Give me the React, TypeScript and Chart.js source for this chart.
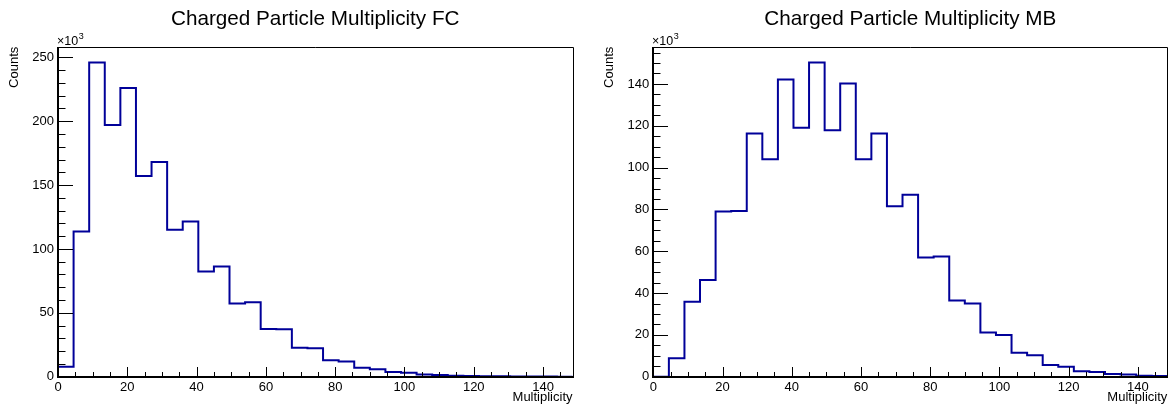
import React, { useEffect, useRef } from "react";
import { Chart, registerables } from "chart.js";

Chart.register(...registerables);

// ---------- data (counts in units of 10^3) ----------
const binWidth = 4.5;
const xMax = 148.5;
const fcCounts = [
  7.8, 113.6, 246, 197, 226, 157, 168, 115, 121.5, 82.3, 86.2, 57.2, 58.3, 37.4, 37.2, 22.7,
  22.2, 12.8, 11.8, 7.1, 5.8, 3.7, 3.1, 1.7, 1.3, 0.8, 0.6, 0.4, 0.3, 0.2, 0.1, 0.1, 0.05,
];
const mbCounts = [
  0, 8.8, 35.9, 46.3, 79, 79.3, 116.3, 104, 142.1, 119, 150.3, 117.8, 140.2, 104, 116.3, 81.5,
  87, 57, 57.5, 36.5, 35, 21.1, 20, 11.5, 10.2, 5.6, 4.8, 2.6, 2.25, 1.3, 1.1, 0.5, 0.35,
];
const xTickValues = [0, 20, 40, 60, 80, 100, 120, 140];
const fcYTicks = [0, 50, 100, 150, 200, 250];
const mbYTicks = [0, 20, 40, 60, 80, 100, 120, 140];
const fcTitle = "Charged Particle Multiplicity FC";
const mbTitle = "Charged Particle Multiplicity MB";
const xTitle = "Multiplicity";
const yTitle = "Counts";
const exponentText = "×10";
const exponentPower = "3";

const FONT = "'Liberation Sans', Arial, Helvetica, sans-serif";
const LINE_COLOR = "#000099";

const rootAxesPlugin = {
  id: "rootAxes",
  afterDraw(chart: any, _args: any, opts: any) {
    const { ctx, chartArea: a, scales } = chart;
    const xs = scales.x;
    const ys = scales.y;
    const L = Math.round(a.left);
    const R = Math.round(a.right);
    const T = Math.round(a.top);
    const B = Math.round(a.bottom);
    ctx.save();
    ctx.strokeStyle = "#000";
    ctx.lineWidth = 1;
    // frame top / right
    ctx.beginPath();
    ctx.moveTo(L, T + 0.5);
    ctx.lineTo(R + 0.5, T + 0.5);
    ctx.lineTo(R + 0.5, B);
    ctx.stroke();
    // axes left / bottom
    ctx.lineWidth = 2;
    ctx.beginPath();
    ctx.moveTo(L, T);
    ctx.lineTo(L, B);
    ctx.lineTo(R + 1, B);
    ctx.stroke();
    // x ticks
    ctx.lineWidth = 1;
    ctx.beginPath();
    for (let v = 0; v <= xs.max + 1e-9; v += opts.xMinor) {
      const px = Math.round(xs.getPixelForValue(v)) + 0.5;
      const major = opts.xMajor.includes(v);
      const len = major ? 10 : 5;
      ctx.moveTo(px, B);
      ctx.lineTo(px, B - len);
    }
    // y ticks
    for (let v = 0; v <= ys.max + 1e-9; v += opts.yMinor) {
      const py = Math.round(ys.getPixelForValue(v)) + 0.5;
      const major = opts.yMajor.includes(v);
      const len = major ? 15 : 7.5;
      ctx.moveTo(L, py);
      ctx.lineTo(L + len, py);
    }
    ctx.stroke();
    // x10^3 label
    ctx.fillStyle = "#000";
    ctx.textAlign = "left";
    ctx.textBaseline = "alphabetic";
    ctx.font = `12.5px ${FONT}`;
    const x0 = L - 1;
    ctx.fillText(exponentText, x0, 45);
    const w = ctx.measureText(exponentText).width;
    ctx.font = `9px ${FONT}`;
    ctx.fillText(exponentPower, x0 + w + 0.5, 39);
    ctx.restore();
  },
};

type HistProps = {
  title: string;
  counts: number[];
  yTicks: number[];
  yMinor: number;
  width: number;
  left: number;
  areaLeft: number;
  areaRight: number;
  yTitlePad: number;
};

function Hist(props: HistProps) {
  const ref = useRef<HTMLCanvasElement | null>(null);
  useEffect(() => {
    const canvas = ref.current!;
    const { counts, yTicks } = props;
    const points = counts.map((v, i) => ({ x: i * binWidth, y: v }));
    points.push({ x: xMax, y: counts[counts.length - 1] });
    const yMax = Math.max(...counts) * 1.05;
    const areaTop = 46.7;
    const areaBottom = 376.7;
    const H = 405;
    const chart = new Chart(canvas, {
      type: "line",
      data: {
        datasets: [
          {
            data: points,
            stepped: "before",
            borderColor: LINE_COLOR,
            borderWidth: 2,
            pointRadius: 0,
            fill: false,
            clip: 3,
          } as any,
        ],
      },
      plugins: [rootAxesPlugin],
      options: {
        responsive: false,
        animation: false,
        devicePixelRatio: 1,
        layout: { padding: { left: 0, right: props.width - props.areaRight, top: 0, bottom: 0 } },
        plugins: {
          legend: { display: false },
          tooltip: { enabled: false },
          title: {
            display: true,
            text: props.title,
            fullSize: false,
            color: "#000",
            font: { family: FONT, size: 20.7, weight: "normal", lineHeight: 1.2 },
            padding: { top: 7, bottom: areaTop - 7 - 20.7 * 1.2 },
          },
          rootAxes: { xMinor: 5, xMajor: xTickValues, yMinor: props.yMinor, yMajor: yTicks },
        } as any,
        scales: {
          x: {
            type: "linear",
            min: 0,
            max: xMax,
            grid: { display: false, drawTicks: false },
            border: { display: false },
            afterBuildTicks: (s: any) => {
              s.ticks = xTickValues.map((v) => ({ value: v }));
            },
            afterFit: (s: any) => {
              s.height = H - areaBottom;
            },
            ticks: {
              color: "#000",
              padding: 3,
              maxRotation: 0,
              autoSkip: false,
              font: { family: FONT, size: 13 },
            },
            title: {
              display: true,
              text: xTitle,
              align: "end",
              color: "#000",
              font: { family: FONT, size: 13, lineHeight: 1.2 },
              padding: { top: 0, bottom: 0 },
            },
          },
          y: {
            type: "linear",
            min: 0,
            max: yMax,
            grid: { display: false, drawTicks: false },
            border: { display: false },
            afterBuildTicks: (s: any) => {
              s.ticks = yTicks.map((v) => ({ value: v }));
            },
            afterFit: (s: any) => {
              s.width = props.areaLeft;
            },
            ticks: {
              color: "#000",
              padding: 4,
              autoSkip: false,
              font: { family: FONT, size: 13 },
            },
            title: {
              display: true,
              text: yTitle,
              align: "end",
              color: "#000",
              font: { family: FONT, size: 13, lineHeight: 1.2 },
              padding: { top: props.yTitlePad, bottom: 0 },
            },
          },
        },
      } as any,
    });
    return () => chart.destroy();
  }, []);
  return (
    <div style={{ position: "absolute", left: props.left, top: 0, width: props.width, height: 405 }}>
      <canvas ref={ref} width={props.width} height={405} style={{ display: "block" }} />
    </div>
  );
}

export default function App() {
  return (
    <div
      style={{
        position: "fixed",
        left: 0,
        top: 0,
        width: 1171,
        height: 405,
        background: "#fff",
        overflow: "hidden",
      }}
    >
      <Hist
        title={fcTitle}
        counts={fcCounts}
        yTicks={fcYTicks}
        yMinor={10}
        width={585}
        left={0}
        areaLeft={58}
        areaRight={572.5}
        yTitlePad={6.7}
      />
      <Hist
        title={mbTitle}
        counts={mbCounts}
        yTicks={mbYTicks}
        yMinor={5}
        width={586}
        left={585}
        areaLeft={68.3}
        areaRight={582.3}
        yTitlePad={16.7}
      />
    </div>
  );
}
